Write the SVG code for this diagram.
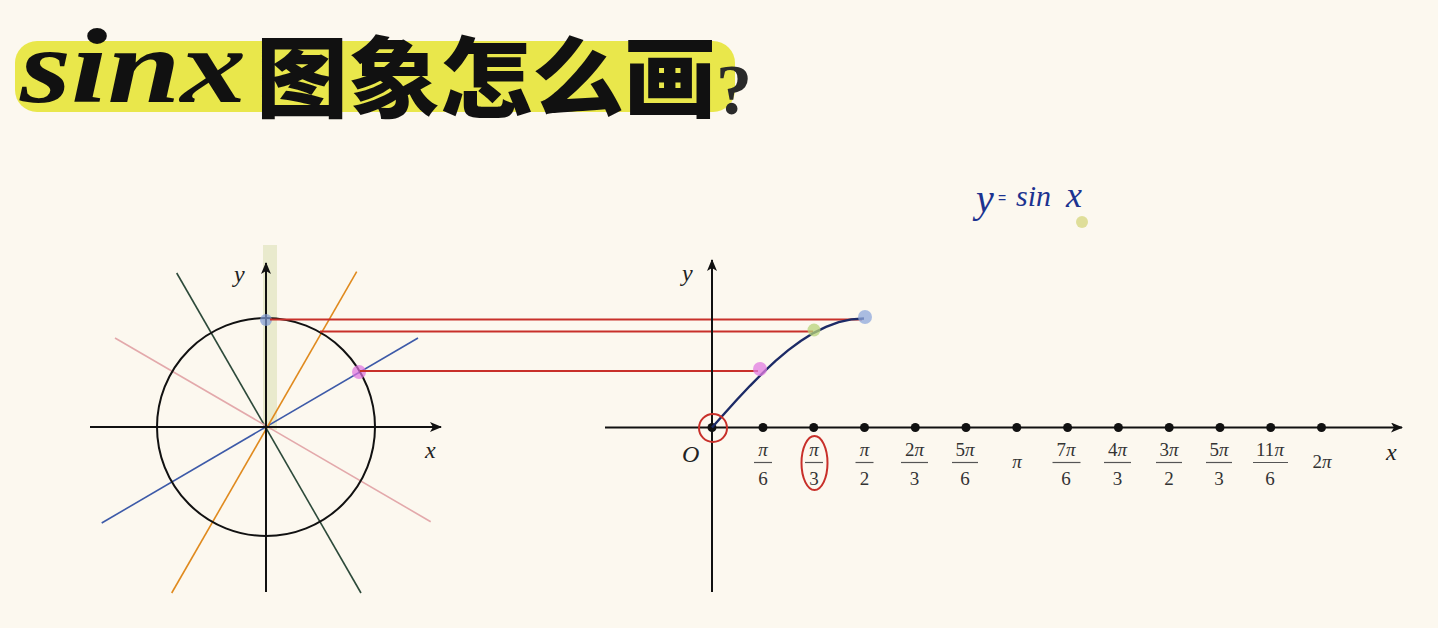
<svg xmlns="http://www.w3.org/2000/svg" width="1438" height="628" viewBox="0 0 1438 628">
<defs>
<marker id="arr" viewBox="0 0 12 10" refX="11" refY="5" markerWidth="12" markerHeight="10" markerUnits="userSpaceOnUse" orient="auto"><path d="M0,0 L12,5 L0,10 L3,5 Z" fill="#111"/></marker>
</defs>
<style>
.axis{stroke:#111;stroke-width:2;fill:none}
.red{stroke:#c8302a;stroke-width:2.2;fill:none}
.lbl{font-family:"Liberation Serif",serif;font-style:italic;font-size:24px;fill:#222}
.frac{font-family:"Liberation Serif",serif;font-size:19px;fill:#333;text-anchor:middle}
.pi{font-style:italic}
.fl{stroke:#555;stroke-width:1.2}
.tick{fill:#111}
.hw{font-family:"Liberation Serif",serif;font-style:italic;fill:#1c3390}
</style>
<rect width="1438" height="628" fill="#fcf8ef"/>

<g id="title">
<rect x="15" y="41" width="720" height="71" rx="22" fill="#e9e74b"/>
<text x="20" y="102" font-family="'Liberation Serif', serif" font-style="italic" font-weight="bold" font-size="106" textLength="226" lengthAdjust="spacingAndGlyphs" fill="#111">sinx</text>
<text x="256" y="110" font-family="'Noto Sans CJK SC', sans-serif" font-weight="900" font-size="88" textLength="460" lengthAdjust="spacingAndGlyphs" fill="#111">图象怎么画</text>
<text x="716" y="114" font-family="'Liberation Serif', serif" font-weight="bold" font-size="72" fill="#2a2a2a">?</text>
</g>

<g id="unit-circle">
<rect x="263" y="245" width="14" height="185" fill="#d9dfb0" opacity="0.55"/>
<line x1="101.7" y1="523" x2="418" y2="338" stroke="#3d5aa8" stroke-width="1.6"/>
<line x1="171.7" y1="593" x2="356.7" y2="271.7" stroke="#e08a1e" stroke-width="1.6"/>
<line x1="176.7" y1="273" x2="361" y2="593" stroke="#2d4a3a" stroke-width="1.6"/>
<line x1="115" y1="338" x2="430.7" y2="521.7" stroke="#e3a9ab" stroke-width="1.6"/>
<circle cx="266" cy="427" r="109" fill="none" stroke="#111" stroke-width="2"/>
<line class="axis" x1="90" y1="427" x2="441" y2="427" marker-end="url(#arr)"/>
<line class="axis" x1="266" y1="592" x2="266" y2="263" marker-end="url(#arr)"/>
<text class="lbl" x="234" y="282">y</text>
<text class="lbl" x="425" y="458">x</text>
<circle cx="266" cy="320" r="6" fill="#7f9ad6" opacity="0.7"/>
<circle cx="359" cy="372" r="7" fill="#e070e0" opacity="0.7"/>
</g>

<g id="connectors">
<line class="red" x1="270" y1="319.5" x2="862" y2="319.5"/>
<line class="red" x1="320" y1="331.5" x2="813" y2="331.5"/>
<line class="red" x1="360" y1="371" x2="758" y2="371"/>
</g>

<g id="sine-graph">
<line class="axis" x1="605" y1="427.5" x2="1402" y2="427.5" marker-end="url(#arr)"/>
<line class="axis" x1="712" y1="592" x2="712" y2="260" marker-end="url(#arr)"/>
<text class="lbl" x="682" y="281">y</text>
<text class="lbl" x="1386" y="460">x</text>
<text class="lbl" x="682" y="462">O</text>
<g class="tick">
<circle cx="712" cy="427.5" r="4.5"/>
<circle cx="763" cy="427.5" r="4.5"/>
<circle cx="813.7" cy="427.5" r="4.5"/>
<circle cx="864.5" cy="427.5" r="4.5"/>
<circle cx="915.3" cy="427.5" r="4.5"/>
<circle cx="966" cy="427.5" r="4.5"/>
<circle cx="1016.8" cy="427.5" r="4.5"/>
<circle cx="1067.6" cy="427.5" r="4.5"/>
<circle cx="1118.4" cy="427.5" r="4.5"/>
<circle cx="1169.2" cy="427.5" r="4.5"/>
<circle cx="1220" cy="427.5" r="4.5"/>
<circle cx="1270.7" cy="427.5" r="4.5"/>
<circle cx="1321.5" cy="427.5" r="4.5"/>
</g>
<g id="tick-labels">
<text class="frac" x="763" y="456"><tspan class="pi">π</tspan></text><line class="fl" x1="754" y1="462.5" x2="772" y2="462.5"/><text class="frac" x="763" y="485">6</text>
<text class="frac" x="814" y="456"><tspan class="pi">π</tspan></text><line class="fl" x1="805" y1="462.5" x2="823" y2="462.5"/><text class="frac" x="814" y="485">3</text>
<text class="frac" x="864.5" y="456"><tspan class="pi">π</tspan></text><line class="fl" x1="855.5" y1="462.5" x2="873.5" y2="462.5"/><text class="frac" x="864.5" y="485">2</text>
<text class="frac" x="914.5" y="456">2<tspan class="pi">π</tspan></text><line class="fl" x1="901" y1="462.5" x2="928" y2="462.5"/><text class="frac" x="914.5" y="485">3</text>
<text class="frac" x="965" y="456">5<tspan class="pi">π</tspan></text><line class="fl" x1="952" y1="462.5" x2="978" y2="462.5"/><text class="frac" x="965" y="485">6</text>
<text class="frac" x="1017" y="468"><tspan class="pi">π</tspan></text>
<text class="frac" x="1066" y="456">7<tspan class="pi">π</tspan></text><line class="fl" x1="1052.5" y1="462.5" x2="1080.5" y2="462.5"/><text class="frac" x="1066" y="485">6</text>
<text class="frac" x="1117.5" y="456">4<tspan class="pi">π</tspan></text><line class="fl" x1="1104" y1="462.5" x2="1131" y2="462.5"/><text class="frac" x="1117.5" y="485">3</text>
<text class="frac" x="1169" y="456">3<tspan class="pi">π</tspan></text><line class="fl" x1="1156" y1="462.5" x2="1182" y2="462.5"/><text class="frac" x="1169" y="485">2</text>
<text class="frac" x="1219" y="456">5<tspan class="pi">π</tspan></text><line class="fl" x1="1206" y1="462.5" x2="1232" y2="462.5"/><text class="frac" x="1219" y="485">3</text>
<text class="frac" x="1270" y="456">11<tspan class="pi">π</tspan></text><line class="fl" x1="1253" y1="462.5" x2="1288" y2="462.5"/><text class="frac" x="1270" y="485">6</text>
<text class="frac" x="1322" y="468">2<tspan class="pi">π</tspan></text>
</g>
<polyline points="712,427.5 724.7,413.3 737.3,399.3 750,385.8 762.7,373 775.3,361.1 788,350.4 800.7,341 813.3,333.1 826,326.8 838.7,322.2 851.3,319.4 864,318.5" fill="none" stroke="#1c2a66" stroke-width="2.4"/>
<circle cx="865" cy="317" r="7" fill="#8fa8dc" opacity="0.75"/>
<circle cx="814" cy="330" r="6.5" fill="#b8d47a" opacity="0.75"/>
<circle cx="760" cy="369" r="7" fill="#e27ce2" opacity="0.75"/>
<circle cx="713" cy="428" r="14" fill="none" stroke="#c8302a" stroke-width="2"/>
<ellipse cx="814.5" cy="463" rx="13" ry="27" fill="none" stroke="#c8302a" stroke-width="2"/>
</g>

<g id="formula">
<text class="hw" x="976" y="212" font-size="40">y</text>
<text x="998" y="203" font-family="'Liberation Sans', sans-serif" font-size="14" fill="#1c3390">=</text>
<text class="hw" x="1016" y="206" font-size="30">sin</text>
<text class="hw" x="1066" y="207" font-size="36">x</text>
<circle cx="1082" cy="222" r="6" fill="#d9d98a" opacity="0.85"/>
</g>
</svg>
